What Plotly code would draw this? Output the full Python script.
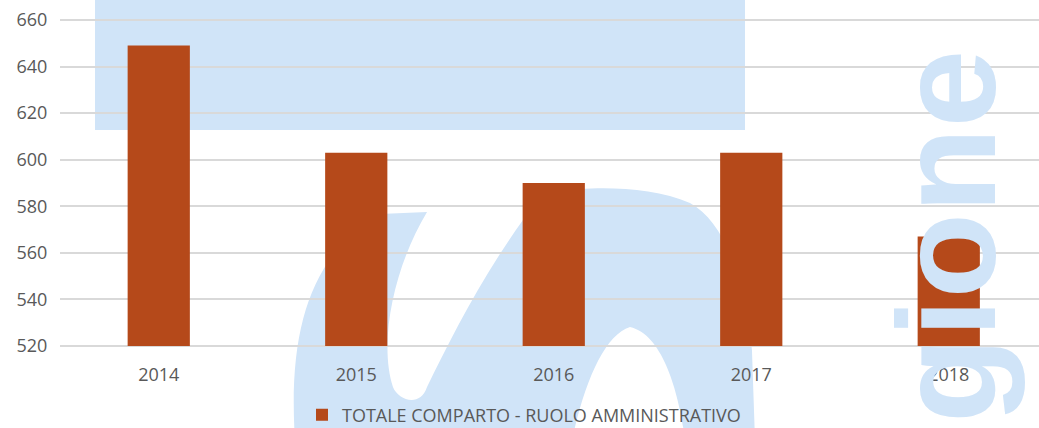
import plotly.graph_objects as go

years = ["2014", "2015", "2016", "2017", "2018"]
values = [649, 603, 590, 603, 567]
series_name = "TOTALE COMPARTO - RUOLO AMMINISTRATIVO"
y_ticks = [520, 540, 560, 580, 600, 620, 640, 660]
y_floor = 520

W, H = 1039, 428
# 2px of headroom at both ends so the 520 and 660 grid lines are kept
PAD = 2
L, R, T, B = 60, 0, 20 - PAD, 82 - PAD
PW = W - L - R
PH = H - T - B
UNIT = 140 / 326          # value units per pixel
Y_RANGE = [y_floor - PAD * UNIT, 660 + PAD * UNIT]


def px(x):
    # page pixel -> paper x
    return (x - L) / PW


def py(y):
    # page pixel -> paper y
    return (H - B - y) / PH


def path(cmds):
    out = []
    for c in cmds:
        if isinstance(c, str):
            out.append(c)
        else:
            out.append(f"{px(c[0]):.4f},{py(c[1]):.4f}")
    return " ".join(out)


WM = "#d0e4f8"

fig = go.Figure()
fig.add_trace(go.Bar(
    x=years, y=[v - y_floor for v in values], base=y_floor,
    name=series_name,
    customdata=values, hovertemplate="%{x}: %{customdata}<extra></extra>",
    marker=dict(color="#b5491a", line=dict(width=0)),
    width=0.315, showlegend=True,
))

shapes = []
# watermark: top rectangle
shapes.append(dict(type="rect", xref="paper", yref="paper",
                   x0=px(95), x1=px(745), y0=py(130), y1=py(-5),
                   fillcolor=WM, line=dict(width=0), layer="below"))
# watermark: swoosh logo
swoosh = path([
    "M", (295, 440),
    "C", (288, 330), (310, 255), (380, 214),
    "L", (427, 212),
    "C", (395, 265), (378, 340), (393, 387),
    "C", (398, 400), (420, 408), (427, 387),
    "C", (450, 340), (480, 280), (523, 220),
    "C", (535, 205), (545, 195), (560, 192),
    "C", (590, 186), (650, 186), (690, 203),
    "C", (725, 222), (745, 280), (752, 350),
    "L", (755, 440),
    "L", (685, 440),
    "C", (680, 400), (665, 335), (630, 327),
    "C", (605, 335), (585, 380), (572, 440),
    "Z",
])
shapes.append(dict(type="path", xref="paper", yref="paper", path=swoosh,
                   fillcolor=WM, line=dict(width=0), layer="below"))

fig.update_layout(shapes=shapes)

fig.add_annotation(
    text="<b>gione</b>", xref="paper", yref="paper",
    x=px(947), y=py(237), xanchor="center", yanchor="middle",
    textangle=-90, showarrow=False,
    font=dict(family="Liberation Sans", size=140, color=WM),
)

TF = dict(family="Open Sans", size=18, color="#595959")

fig.update_layout(
    width=W, height=H,
    margin=dict(l=L, r=R, t=T, b=B, pad=0, autoexpand=False),
    plot_bgcolor="rgba(0,0,0,0)",
    paper_bgcolor="white",
    font=TF,
    xaxis=dict(
        type="category", automargin=False,
        range=[-0.5, -0.5 + PW / 197.5],
        showgrid=False, zeroline=False, showline=False,
        ticks="outside", ticklen=10, tickcolor="rgba(0,0,0,0)",
        tickfont=TF,
    ),
    yaxis=dict(
        range=Y_RANGE, automargin=False,
        tickvals=y_ticks,
        showgrid=True, gridcolor="#d9d9d9", gridwidth=2,
        zeroline=False, showline=False,
        ticks="outside", ticklen=8, tickcolor="rgba(0,0,0,0)",
        tickfont=TF,
    ),
    legend=dict(
        orientation="h", x=px(524), xanchor="center",
        y=py(415), yanchor="middle",
        font=TF,
        bgcolor="rgba(0,0,0,0)",
    ),
    bargap=0.685,
)

fig.write_html(
    "out.html",
    config={"displayModeBar": False},
    post_script="document.body.style.margin='0';document.body.style.overflow='hidden';",
)
